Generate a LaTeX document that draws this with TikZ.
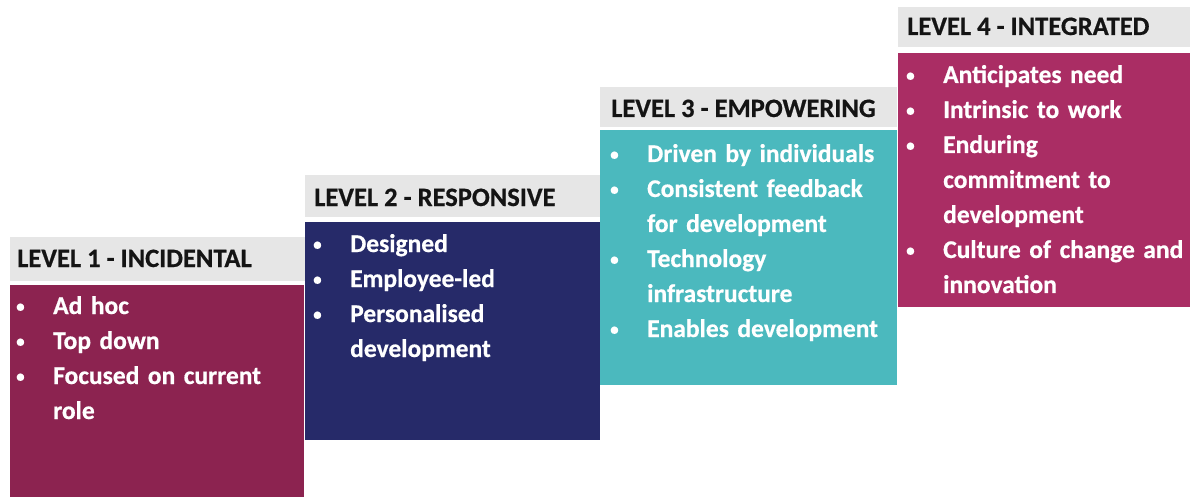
\documentclass[tikz,border=0pt]{standalone}
\usepackage{fontspec}
\setmainfont{Carlito}[BoldFeatures={FakeBold=0.6}]
\definecolor{hdrgrey}{RGB}{230,230,230}
\definecolor{hdrtext}{RGB}{20,20,20}
\definecolor{lvone}{RGB}{140,35,80}
\definecolor{lvtwo}{RGB}{38,42,105}
\definecolor{lvthree}{RGB}{75,185,190}
\definecolor{lvfour}{RGB}{170,45,100}
\newcommand{\bul}{\makebox[33pt][l]{\hspace*{-4pt}\raisebox{2pt}{\fontsize{17}{17}\selectfont\textbullet}}}
\newcommand{\cnt}{\hspace*{33pt}}
\begin{document}
\begin{tikzpicture}[x=1pt,y=-1pt,
  hdr/.style={fill=hdrgrey, draw=none, inner sep=0pt, anchor=north west},
  panel/.style={draw=none, inner sep=0pt, anchor=north west},
  htext/.style={anchor=base west, inner sep=0pt, text=hdrtext,
    font=\bfseries\fontsize{26.5}{32}\selectfont},
  items/.style={anchor=base west, inner sep=0pt, text=white, align=left,
    text width=300pt, font=\bfseries\fontsize{25.5}{35}\selectfont}]
\useasboundingbox[fill=white] (0,0) rectangle (1190,497);

% Level 1
\node[hdr, minimum width=295pt, minimum height=44pt] (h1) at (10,237) {};
\node[panel, fill=lvone, minimum width=294pt, minimum height=212pt] (b1) at (10,285) {};
\node[htext] (h1t) at ([xshift=7pt,yshift=-30pt]h1.north west) {LEVEL 1 - INCIDENTAL};
\node[items] (b1t) at ([xshift=10pt,yshift=-29pt]b1.north west)
  {\bul Ad hoc\\ \bul Top down\\ \bul Focused on current\\ \cnt role};

% Level 2
\node[hdr, minimum width=295pt, minimum height=42pt] (h2) at (305,175) {};
\node[panel, fill=lvtwo, minimum width=295pt, minimum height=218pt] (b2) at (305,222) {};
\node[htext] (h2t) at ([xshift=9pt,yshift=-31pt]h2.north west) {LEVEL 2 - RESPONSIVE};
\node[items] (b2t) at ([xshift=12pt,yshift=-30pt]b2.north west)
  {\bul Designed\\ \bul Employee-led\\ \bul Personalised\\ \cnt development};

% Level 3
\node[hdr, minimum width=297pt, minimum height=40pt] (h3) at (600,87) {};
\node[panel, fill=lvthree, minimum width=297pt, minimum height=255pt] (b3) at (600,130) {};
\node[htext] (h3t) at ([xshift=11pt,yshift=-30pt]h3.north west) {LEVEL 3 - EMPOWERING};
\node[items] (b3t) at ([xshift=14pt,yshift=-32pt]b3.north west)
  {\bul Driven by individuals\\ \bul Consistent feedback\\ \cnt for development\\
   \bul Technology\\ \cnt infrastructure\\ \bul Enables development};

% Level 4
\node[hdr, minimum width=292pt, minimum height=40pt] (h4) at (898,7) {};
\node[panel, fill=lvfour, minimum width=292pt, minimum height=254pt] (b4) at (898,53) {};
\node[htext] (h4t) at ([xshift=9pt,yshift=-28pt]h4.north west) {LEVEL 4 - INTEGRATED};
\node[items] (b4t) at ([xshift=12pt,yshift=-30pt]b4.north west)
  {\bul Anticipates need\\ \bul Intrinsic to work\\ \bul Enduring\\ \cnt commitment to\\
   \cnt development\\ \bul Culture of change and\\ \cnt innovation};
\end{tikzpicture}
\end{document}
